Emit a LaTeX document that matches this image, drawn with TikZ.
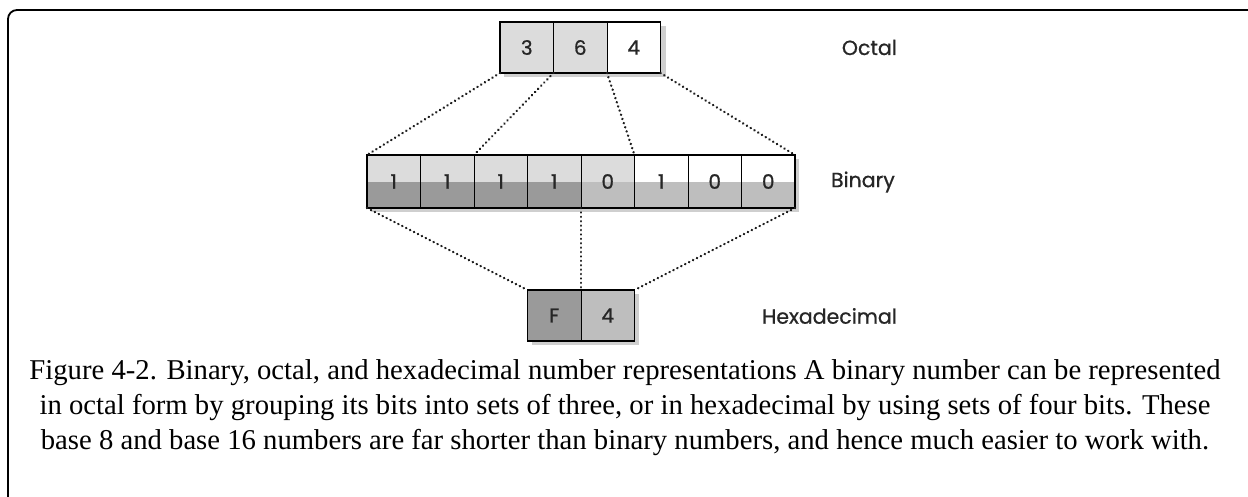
\documentclass[tikz,border=0pt]{standalone}
\usepackage{fontspec}
\setmainfont{Liberation Serif}
\newfontfamily\labfont[FakeBold=0.8]{Poppins}
\definecolor{lightg}{HTML}{DCDCDC}
\definecolor{darkg}{HTML}{9A9A9A}
\definecolor{midg}{HTML}{BEBEBE}
\definecolor{shadowg}{HTML}{CFCFCF}
\definecolor{dotg}{HTML}{1E1E1E}
\tikzset{
  cell/.style={draw=black, line width=1pt, minimum width=53.5pt, minimum height=#1, inner sep=0pt, outer sep=0pt, font=\labfont\fontsize{20}{20}\selectfont, text=black!85},
  cell/.default=51pt,
  bcell/.style 2 args={cell=53pt, path picture={
      \fill[#1] (path picture bounding box.north west) rectangle (path picture bounding box.east);
      \fill[#2] (path picture bounding box.west) rectangle (path picture bounding box.south east);}},
  outline/.style={draw=black, line width=1.8pt},
  shadow/.style={fill=shadowg},
  dotline/.style={draw=dotg, line width=2.6pt, dash pattern=on 0.1pt off 4.3pt, line cap=round},
  lab/.style={anchor=east, inner sep=0pt, font=\labfont\fontsize{20.5}{20.5}\selectfont, text=black!85},
}
\begin{document}
\begin{tikzpicture}[x=1pt,y=-1pt]
\useasboundingbox (0,0) rectangle (1248,496);
% frame
\draw[line width=1.8pt, rounded corners=9pt] (8,500) -- (8,10) -- (1252,10);
% shadows
\fill[shadow] (504,26) rectangle (666,77);
\fill[shadow] (371,159) rectangle (799,212);
\fill[shadow] (531.5,294) rectangle (638.5,345);
% octal
\node[cell, fill=lightg] (o1) at (526.75,47.5) {3};
\node[cell, fill=lightg, anchor=west] (o2) at (o1.east) {6};
\node[cell, fill=white, anchor=west] (o3) at (o2.east) {4};
\draw[outline] (o1.north west) rectangle (o3.south east);
% binary
\node[bcell={lightg}{darkg}] (b1) at (393.75,181.5) {1};
\node[bcell={lightg}{darkg}, anchor=west] (b2) at (b1.east) {1};
\node[bcell={lightg}{darkg}, anchor=west] (b3) at (b2.east) {1};
\node[bcell={lightg}{darkg}, anchor=west] (b4) at (b3.east) {1};
\node[bcell={lightg}{midg}, anchor=west] (b5) at (b4.east) {0};
\node[bcell={white}{midg}, anchor=west] (b6) at (b5.east) {1};
\node[bcell={white}{midg}, anchor=west] (b7) at (b6.east) {0};
\node[bcell={white}{midg}, anchor=west] (b8) at (b7.east) {0};
\draw[outline] (b1.north west) rectangle (b8.south east);
% hex
\node[cell, fill=darkg, anchor=east] (h1) at (b4.east |- 0,315.5) {F};
\node[cell, fill=midg, anchor=west] (h2) at (h1.east) {4};
\draw[outline] (h1.north west) rectangle (h2.south east);
% dotted connectors
\draw[dotline] (o1.south west) -- (b1.north west);
\draw[dotline] (o1.south east) -- (b2.north east);
\draw[dotline] (o2.south east) -- (b5.north east);
\draw[dotline] (o3.south east) -- (b8.north east);
\draw[dotline] (b1.south west) -- (h1.north west);
\draw[dotline] (b4.south east) -- (h1.north east);
\draw[dotline] (b8.south east) -- (h2.north east);
% labels
\node[lab] (lo) at (897,47.5) {Octal};
\node[lab] (lb) at (895,182) {Binary};
\node[lab] (lh) at (897,316) {Hexadecimal};
% caption
\node[align=center, inner sep=0pt, font=\fontsize{28.7}{35}\selectfont] (cap) at (625,408) {Figure 4-2. Binary, octal, and hexadecimal number representations A binary number can be represented\\ in octal form by grouping its bits into sets of three, or in hexadecimal by using sets of four bits. These\\ base 8 and base 16 numbers are far shorter than binary numbers, and hence much easier to work with.};
\end{tikzpicture}
\end{document}
